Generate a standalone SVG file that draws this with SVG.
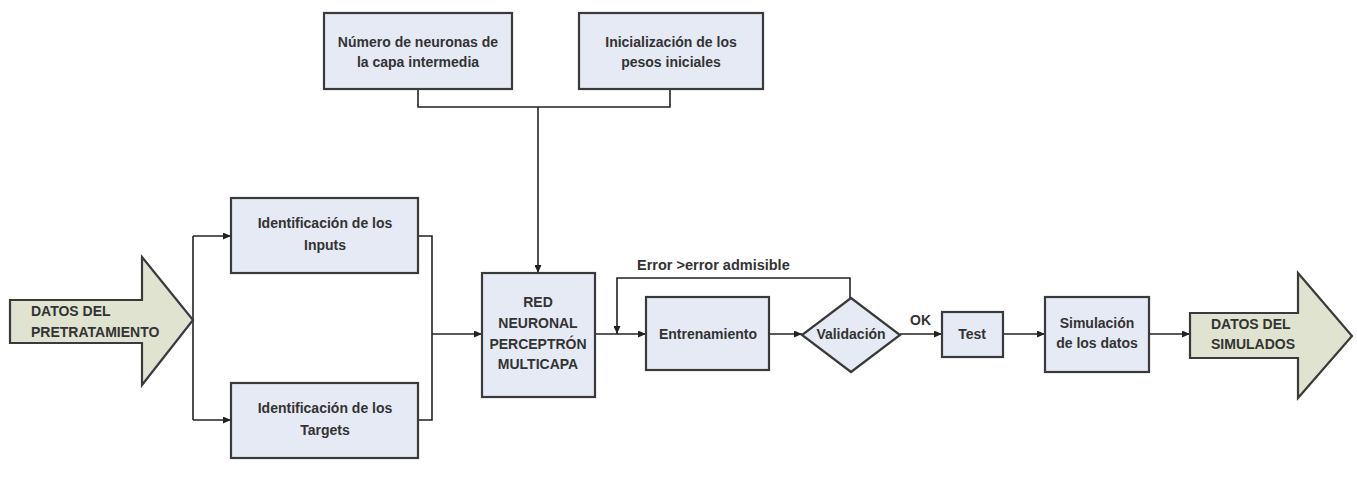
<svg xmlns="http://www.w3.org/2000/svg" width="1357" height="492" viewBox="0 0 1357 492">
<defs>
<marker id="arr" viewBox="0 0 8 7" refX="8" refY="3.5" markerWidth="8" markerHeight="7" markerUnits="userSpaceOnUse" orient="auto">
<path d="M0,0 L8,3.5 L0,7 z" fill="#222"/>
</marker>
<style>
.box{fill:#e6eaf4;stroke:#3a3a3a;stroke-width:2.2}
.bigarrow{fill:#dfe3d0;stroke:#3a3a3a;stroke-width:2.2}
.t{font-family:"Liberation Sans",Arial,sans-serif;font-weight:bold;font-size:14px;fill:#333;text-anchor:middle}
.tl{font-family:"Liberation Sans",Arial,sans-serif;font-weight:bold;font-size:14px;fill:#333}
.c{fill:none;stroke:#222;stroke-width:1.6}
</style>
</defs>
<rect width="1357" height="492" fill="#ffffff"/>

<g id="connectors">
<path class="c" d="M193,236 V420"/>
<path class="c" d="M193,236 H231" marker-end="url(#arr)"/>
<path class="c" d="M193,420 H231" marker-end="url(#arr)"/>
<path class="c" d="M418,236 H432 V420 H418"/>
<path class="c" d="M432,334 H482" marker-end="url(#arr)"/>
<path class="c" d="M418,89 V107 H670 V89"/>
<path class="c" d="M538,107 V273" marker-end="url(#arr)"/>
<path class="c" d="M595,334 H646" marker-end="url(#arr)"/>
<path class="c" d="M769,334 H802" marker-end="url(#arr)"/>
<path class="c" d="M850,298 V278 H617 V334" marker-end="url(#arr)"/>
<path class="c" d="M900,334 H942" marker-end="url(#arr)"/>
<path class="c" d="M1003,334 H1045" marker-end="url(#arr)"/>
<path class="c" d="M1149,334 H1190" marker-end="url(#arr)"/>
<text class="tl" x="637" y="270" style="font-size:14.5px">Error &gt;error admisible</text>
<text class="tl" x="910" y="325">OK</text>
</g>

<g id="datos-pretratamiento">
<polygon class="bigarrow" points="10,300 142,300 142,257 193,320 142,385 142,343 10,343"/>
<text class="tl" x="31" y="316">DATOS DEL</text>
<text class="tl" x="31" y="337">PRETRATAMIENTO</text>
</g>

<g id="inputs">
<rect class="box" x="231" y="198" width="187" height="75"/>
<text class="t" x="325" y="228">Identificación de los</text>
<text class="t" x="325" y="250">Inputs</text>
</g>

<g id="targets">
<rect class="box" x="231" y="383" width="187" height="75"/>
<text class="t" x="325" y="413">Identificación de los</text>
<text class="t" x="325" y="435">Targets</text>
</g>

<g id="neuronas">
<rect class="box" x="324" y="13" width="188" height="76"/>
<text class="t" x="418" y="47">Número de neuronas de</text>
<text class="t" x="418" y="67">la capa intermedia</text>
</g>

<g id="pesos">
<rect class="box" x="579" y="13" width="184" height="76"/>
<text class="t" x="671" y="47">Inicialización de los</text>
<text class="t" x="671" y="67">pesos iniciales</text>
</g>

<g id="red">
<rect class="box" x="482" y="273" width="113" height="124"/>
<text class="t" x="538" y="307">RED</text>
<text class="t" x="538" y="328">NEURONAL</text>
<text class="t" x="538" y="349">PERCEPTRÓN</text>
<text class="t" x="538" y="369">MULTICAPA</text>
</g>

<g id="entrenamiento">
<rect class="box" x="646" y="297" width="123" height="73"/>
<text class="t" x="708" y="339">Entrenamiento</text>
</g>

<g id="validacion">
<polygon class="box" points="851,298 900,335 851,372 802,335"/>
<text class="t" x="851" y="339">Validación</text>
</g>

<g id="test">
<rect class="box" x="942" y="312" width="61" height="45"/>
<text class="t" x="972" y="339">Test</text>
</g>

<g id="simulacion">
<rect class="box" x="1045" y="297" width="104" height="75"/>
<text class="t" x="1097" y="328">Simulación</text>
<text class="t" x="1097" y="348">de los datos</text>
</g>

<g id="datos-simulados">
<polygon class="bigarrow" points="1190,313 1298,313 1298,273 1352,336 1298,398 1298,358 1190,358"/>
<text class="tl" x="1211" y="329">DATOS DEL</text>
<text class="tl" x="1211" y="349">SIMULADOS</text>
</g>
</svg>
